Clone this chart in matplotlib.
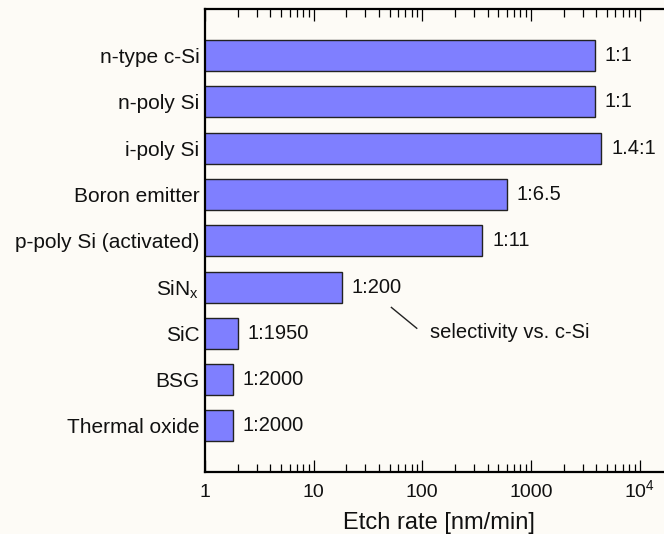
import matplotlib.pyplot as plt
import numpy as np

plt.rcParams['font.family'] = ['Liberation Sans', 'DejaVu Sans']
plt.rcParams['mathtext.fontset'] = 'custom'
plt.rcParams['mathtext.rm'] = 'Liberation Sans'

# Datos
materiales = ['n-type c-Si', 'n-poly Si', 'i-poly Si', 'Boron emitter',
              'p-poly Si (activated)', r'SiN$_\mathregular{x}$', 'SiC', 'BSG',
              'Thermal oxide']
etch_rate = [3900, 3900, 4450, 600, 357, 18.1, 2.0, 1.8, 1.8]
selectividad = ['1:1', '1:1', '1.4:1', '1:6.5', '1:11', '1:200', '1:1950',
                '1:2000', '1:2000']
xticks = [1, 10, 100, 1000, 10000]
xticklabels = ['1', '10', '100', '1000', r'$\mathregular{10^4}$']

fondo = '#fdfbf6'
fig = plt.figure(figsize=(6.64, 5.34), dpi=100, facecolor=fondo)
ax = fig.add_axes([0.3087, 0.1161, 0.7035, 0.8665], facecolor=fondo)

y = np.arange(len(materiales))
ax.barh(y, etch_rate, height=0.67, left=0, color='#7f7fff',
        edgecolor='#222222', linewidth=1.0, zorder=2)
ax.set_xscale('log')
ax.set_xlim(1, 10 ** 4.3)
ax.set_ylim(8.995, -1.0)

# Etiquetas de selectividad
for yi, v, s in zip(y, etch_rate, selectividad):
    ax.annotate(s, xy=(v, yi), xytext=(7, 0), textcoords='offset points',
                ha='left', va='center', fontsize=14.5, color='#111111')

# Linea guia y texto
ax.plot([52, 89], [5.44, 5.89], color='#222222', lw=1.0)
ax.text(117, 5.98, 'selectivity vs. c-Si', ha='left', va='center',
        fontsize=14.5, color='#111111')

ax.set_yticks(y)
ax.set_yticklabels(materiales, fontsize=15, color='#111111')
ax.tick_params(axis='y', length=0, pad=4)

ax.set_xticks(xticks)
ax.set_xticklabels(xticklabels, fontsize=14, color='#111111')
for lab in ax.get_xticklabels():
    lab.set_va('baseline')
ax.tick_params(axis='x', which='major', direction='in', length=8.5,
               width=0.9, top=True, pad=18)
ax.tick_params(axis='x', which='minor', direction='in', length=6,
               width=0.9, top=True)
ax.set_xlabel('Etch rate [nm/min]', fontsize=17, color='#111111', labelpad=8)

for lado in ['left', 'bottom', 'top']:
    ax.spines[lado].set_linewidth(1.6)
ax.spines['right'].set_visible(False)

plt.savefig('out.png', dpi=100, facecolor=fondo)
plt.close()
